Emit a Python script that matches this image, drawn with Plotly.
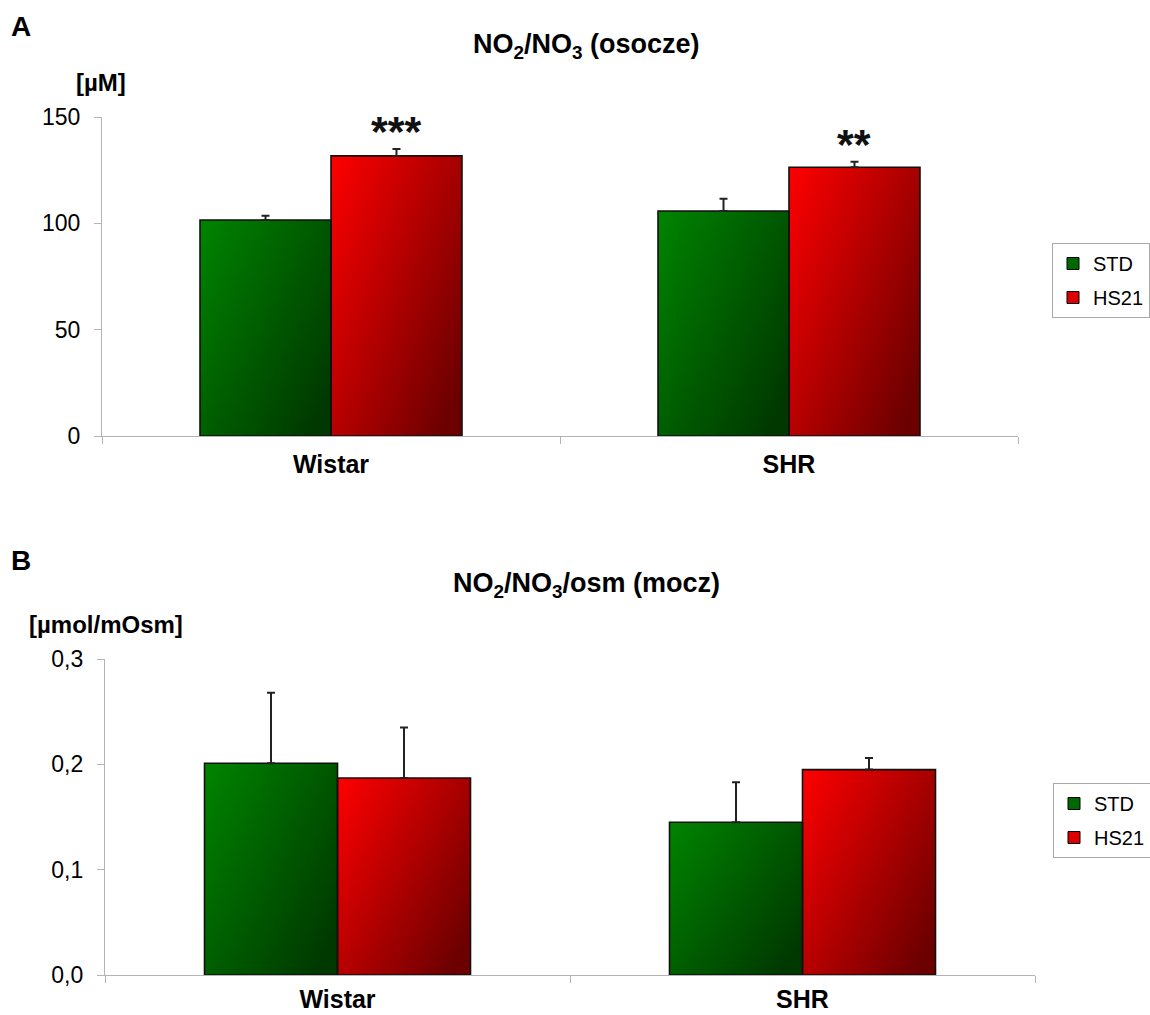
import base64
import plotly.graph_objects as go

# ---- data -------------------------------------------------------------
groups = ["Wistar", "SHR"]
diets = ["STD", "HS21"]

# plasma NO2/NO3 [uM]
plasma_std = [101.6, 105.8]
plasma_std_err = [2.0, 5.8]
plasma_hs21 = [131.7, 126.4]
plasma_hs21_err = [3.3, 2.5]
plasma_marks = ["***", "**"]

# urine NO2/NO3 per osmolality [umol/mOsm]
urine_std = [0.201, 0.145]
urine_std_err = [0.067, 0.038]
urine_hs21 = [0.187, 0.195]
urine_hs21_err = [0.048, 0.011]

plasma_ticks = [0, 50, 100, 150]
urine_ticks = [0.0, 0.1, 0.2, 0.3]

# ---- styling ----------------------------------------------------------
FONT = "Arial, Liberation Sans, sans-serif"
W, H = 1150, 1015
BAR_W = 0.286
AXIS_GRAY = "#b4b4b4"

GREEN = ("#008400", "#003800")
RED = ("#ff0000", "#6c0000")


def gradient_uri(c0, c1):
    svg = (
        '<svg xmlns="http://www.w3.org/2000/svg" width="100" height="100" '
        'viewBox="0 0 100 100" preserveAspectRatio="none">'
        '<defs><linearGradient id="g" x1="0" y1="0" x2="1" y2="0.8">'
        f'<stop offset="0" stop-color="{c0}"/>'
        f'<stop offset="1" stop-color="{c1}"/>'
        '</linearGradient></defs>'
        '<rect width="100" height="100" fill="url(#g)"/></svg>'
    )
    return "data:image/svg+xml;base64," + base64.b64encode(svg.encode()).decode()


GREEN_URI = gradient_uri(*GREEN)
RED_URI = gradient_uri(*RED)

fig = go.Figure()
images = []
annotations = []

panels = [
    dict(xa="x", ya="y", legend="legend",
         series=[(plasma_std, plasma_std_err, -BAR_W, GREEN_URI),
                 (plasma_hs21, plasma_hs21_err, 0.0, RED_URI)]),
    dict(xa="x2", ya="y2", legend="legend2",
         series=[(urine_std, urine_std_err, -BAR_W, GREEN_URI),
                 (urine_hs21, urine_hs21_err, 0.0, RED_URI)]),
]

xpos = list(range(len(groups)))

for p in panels:
    for vals, errs, off, uri in p["series"]:
        fig.add_trace(go.Bar(
            x=xpos, y=vals, width=BAR_W, offset=off,
            marker=dict(color="rgba(0,0,0,0)", line=dict(color="#111111", width=1.6)),
            error_y=dict(type="data", symmetric=False, array=errs,
                         arrayminus=[0] * len(errs), color="#222222",
                         thickness=2, width=4),
            showlegend=False, hoverinfo="skip",
            xaxis=p["xa"], yaxis=p["ya"],
        ))
        for xi, v in zip(xpos, vals):
            images.append(dict(
                source=uri, xref=p["xa"], yref=p["ya"],
                x=xi + off, y=v, sizex=BAR_W, sizey=v,
                xanchor="left", yanchor="top", sizing="stretch", layer="below",
            ))
    # legend entries
    for i, (name, col) in enumerate(zip(diets, ["#006800", "#dd0000"])):
        fig.add_trace(go.Bar(
            x=[None], y=[None], name=name,
            marker=dict(color=col, line=dict(color="#000000", width=1)),
            legend=p["legend"], legendgroup=f"{p['legend']}{i}",
            xaxis=p["xa"], yaxis=p["ya"],
        ))

# significance marks above HS21 bars
for xi, v, e, m in zip(xpos, plasma_hs21, plasma_hs21_err, plasma_marks):
    annotations.append(dict(
        x=xi + BAR_W / 2, y=v + e, xref="x", yref="y", text=f"<b>{m}</b>",
        showarrow=False, yanchor="middle", yshift=18,
        font=dict(family=FONT, size=43, color="#111111"),
    ))

# panel letters, titles and units
def label(text, x, y, size, xanchor="left"):
    annotations.append(dict(
        x=x / W, y=1 - y / H, xref="paper", yref="paper", text=text,
        showarrow=False, xanchor=xanchor, yanchor="middle",
        font=dict(family=FONT, size=size, color="#000000"),
    ))

label("<b>A</b>", 9, 27, 28)
label("<b>NO<sub>2</sub>/NO<sub>3</sub> (osocze)</b>", 586, 46, 27, "center")
label("<b>[µM]</b>", 74, 82, 24)
label("<b>B</b>", 9, 560, 28)
label("<b>NO<sub>2</sub>/NO<sub>3</sub>/osm (mocz)</b>", 586, 585, 27, "center")
label("<b>[µmol/mOsm]</b>", 27, 624, 24)

xaxis_common = dict(
    range=[-0.5, len(groups) - 0.5], tickvals=xpos, ticktext=[f"<b>{g}</b>" for g in groups],
    ticks="", showline=True, linecolor=AXIS_GRAY, linewidth=1.2, showgrid=False,
    zeroline=False, tickfont=dict(family=FONT, size=25, color="#000000"),
    minor=dict(tickvals=[i - 0.5 for i in range(len(groups) + 1)], ticks="outside",
               ticklen=7, tickcolor=AXIS_GRAY, tickwidth=1.2),
    fixedrange=True,
)
yaxis_common = dict(
    showline=True, linecolor=AXIS_GRAY, linewidth=1.2, showgrid=False, zeroline=False,
    ticks="outside", ticklen=7, tickcolor=AXIS_GRAY, tickwidth=1.2,
    tickfont=dict(family=FONT, size=23, color="#000000"), ticklabelstandoff=9,
    fixedrange=True,
)

legend_common = dict(
    xanchor="left", yanchor="top", bordercolor="#a8a8a8", borderwidth=1,
    bgcolor="white", font=dict(family=FONT, size=20, color="#000000"),
    traceorder="grouped", tracegroupgap=5, itemwidth=30,
)

fig.update_layout(
    width=W, height=H,
    margin=dict(l=0, r=0, t=0, b=0, autoexpand=False),
    paper_bgcolor="white", plot_bgcolor="white",
    barmode="overlay", separators=", ",
    font=dict(family=FONT),
    xaxis=dict(domain=[102 / W, 1018 / W], anchor="y", ticklabelstandoff=6, **xaxis_common),
    yaxis=dict(domain=[1 - 436 / H, 1 - 117 / H], anchor="x", range=[0, 150],
               tickvals=plasma_ticks, **yaxis_common),
    xaxis2=dict(domain=[105 / W, 1035 / W], anchor="y2", ticklabelstandoff=2, **xaxis_common),
    yaxis2=dict(domain=[1 - 975 / H, 1 - 659 / H], anchor="x2", range=[0, 0.3],
                tickvals=urine_ticks, tickformat=".1f", **yaxis_common),
    legend=dict(x=1052 / W, y=1 - 243 / H, **legend_common),
    legend2=dict(x=1053 / W, y=1 - 783 / H, **legend_common),
    images=images,
    annotations=annotations,
    showlegend=True,
)

fig.write_html("out.html")
